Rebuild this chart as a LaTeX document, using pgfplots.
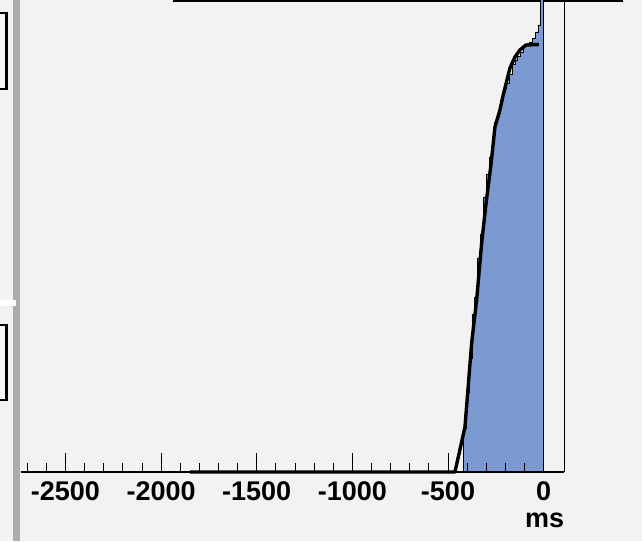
\documentclass[border=0pt]{standalone}
\usepackage{fontspec}
\setmainfont{Liberation Sans}
\usepackage{pgfplots}
\pgfplotsset{compat=1.18}
\definecolor{bg}{RGB}{242,242,242}
\definecolor{histblue}{RGB}{123,154,209}
\definecolor{sidebar}{RGB}{172,172,172}
\begin{document}
\begin{tikzpicture}[x=1pt,y=1pt]
\useasboundingbox (0,0) rectangle (642,541);
\clip (0,0) rectangle (642,541);
\fill[bg] (0,0) rectangle (642,541);
\fill[sidebar] (13,0) rectangle (20,541);
\fill[white] (0,541-306.5) rectangle (15.5,541-300.5);
\draw[black,line width=2.5pt,fill=white!97!black] (-5,541-13) rectangle (6.5,541-89);
\draw[black,line width=2.5pt,fill=white!97!black] (-5,541-325) rectangle (6.5,541-400);
\draw[black,line width=2.5pt] (173,541-1.2) -- (623,541-1.2);
\begin{axis}[
  at={(20.5pt,69pt)}, anchor=south west,
  scale only axis, width=543.8pt, height=472pt,
  xmin=-2735, xmax=108, ymin=0, ymax=472,
  axis x line*=bottom, axis y line*=right,
  ytick=\empty,
  xtick={-2500,-2000,-1500,-1000,-500,0},
  xticklabels={-2500,-2000,-1500,-1000,-500,0},
  minor xtick={-2700,-2600,...,0},
  tick align=inside,
  major tick length=19pt, minor tick length=9pt,
  tick style={black, line width=0.9pt},
  x axis line style={line width=2.2pt},
  y axis line style={line width=1.6pt},
  xticklabel style={font=\fontsize{27}{27}\selectfont\bfseries, inner sep=0pt, yshift=-9pt},
  xlabel={ms},
  xlabel style={at={(rel axis cs:1,0)}, anchor=north east, inner sep=0pt, yshift=-41pt, font=\fontsize{27}{27}\selectfont\bfseries},
  clip=false, axis on top,
]
\addplot[const plot, fill=histblue, draw=black, line width=0.8pt] coordinates {
(-420,0) (-420,44) (-405,80) (-390,114) (-375,158) (-360,175) (-345,214)
(-330,238) (-315,275) (-300,298) (-285,315) (-270,336) (-255,350)
(-240,359) (-225,372) (-210,384) (-195,389) (-180,398) (-165,408)
(-150,412) (-135,416) (-120,420) (-105,426) (-90,427) (-75,430)
(-60,434) (-45,440) (-30,447) (-15,530) (0,530) (0,0)
};
\addplot[black, line width=3.4pt, line join=round] coordinates {
(-1849,0) (-463.7,0) (-411.4,45) (-376.4,129) (-350.3,172) (-324.1,229)
(-299.0,272) (-275.5,307) (-254.6,345) (-228.5,362) (-212.8,376)
(-191.9,392) (-176.2,404) (-150.0,415) (-123.9,422) (-92.5,427) (-24.6,427.5)
};
\end{axis}
\end{tikzpicture}
\end{document}
